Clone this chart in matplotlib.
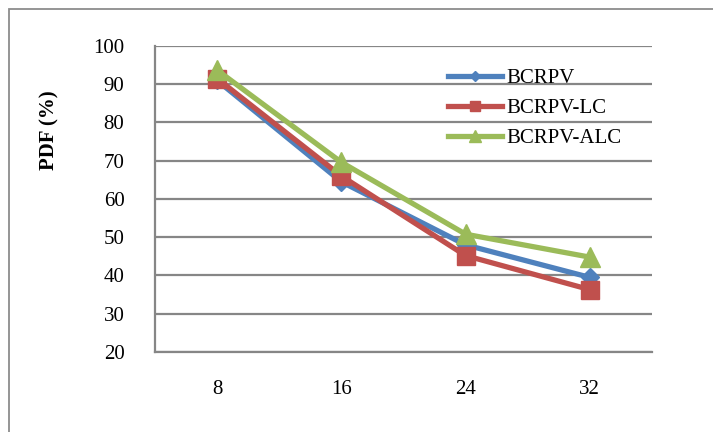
import matplotlib.pyplot as plt
from matplotlib.patches import Rectangle

# data
categories = ['8', '16', '24', '32']
bcrpv = [91, 64.5, 48, 39.5]
bcrpv_lc = [91.5, 66, 45.2, 36.3]
bcrpv_alc = [93.7, 69.6, 50.8, 44.8]

plt.rcParams['font.family'] = ['Liberation Serif', 'DejaVu Serif']

fig = plt.figure(figsize=(7.13, 4.32), dpi=100)
ax = fig.add_axes([155 / 713, 1 - 352 / 432, 497 / 713, 306 / 432])

# outer chart border (gray frame, cut off at right/bottom)
fig.patches.append(Rectangle((9 / 713, -0.05), 1.2, 1 - 9 / 432 + 0.05,
                             transform=fig.transFigure, fill=False,
                             edgecolor='#8c8c8c', linewidth=1.3))

x = [i + 0.5 for i in range(len(categories))]
ax.plot(x, bcrpv, color='#4F81BD', lw=3.8, marker='D', ms=9,
        solid_joinstyle='round', label='BCRPV', zorder=3)
ax.plot(x, bcrpv_lc, color='#C0504D', lw=3.8, marker='s', ms=13,
        solid_joinstyle='round', label='BCRPV-LC', zorder=4)
ax.plot(x, bcrpv_alc, color='#9BBB59', lw=3.8, marker='^', ms=14,
        solid_joinstyle='round', label='BCRPV-ALC', zorder=5)

ax.set_xlim(0, 4)
ax.set_ylim(20, 100)
ax.set_xticks(x)
ax.set_xticklabels(categories)
ax.set_yticks(range(20, 101, 10))
ax.tick_params(axis='both', length=0, labelsize=15)
ax.tick_params(axis='x', pad=20)
ax.tick_params(axis='y', pad=22)

ax.grid(axis='y', color='#868686', lw=1.6)
ax.set_axisbelow(True)
for side in ['top', 'right']:
    ax.spines[side].set_visible(False)
ax.spines['left'].set_color('#868686')
ax.spines['left'].set_linewidth(1.6)
ax.spines['bottom'].set_color('#868686')
ax.spines['bottom'].set_linewidth(1.6)

fig.text(49 / 713, 1 - 130 / 432, 'PDF (%)', rotation=90, fontsize=15,
         fontweight='bold', ha='center', va='center')

ax.legend(loc='upper left', bbox_to_anchor=(0.589, 0.927), frameon=False,
          fontsize=15, handlelength=2.6, handletextpad=0.2, labelspacing=0.5,
          borderpad=0, borderaxespad=0, numpoints=1, markerscale=0.6)

fig.savefig('out.png', dpi=100)
